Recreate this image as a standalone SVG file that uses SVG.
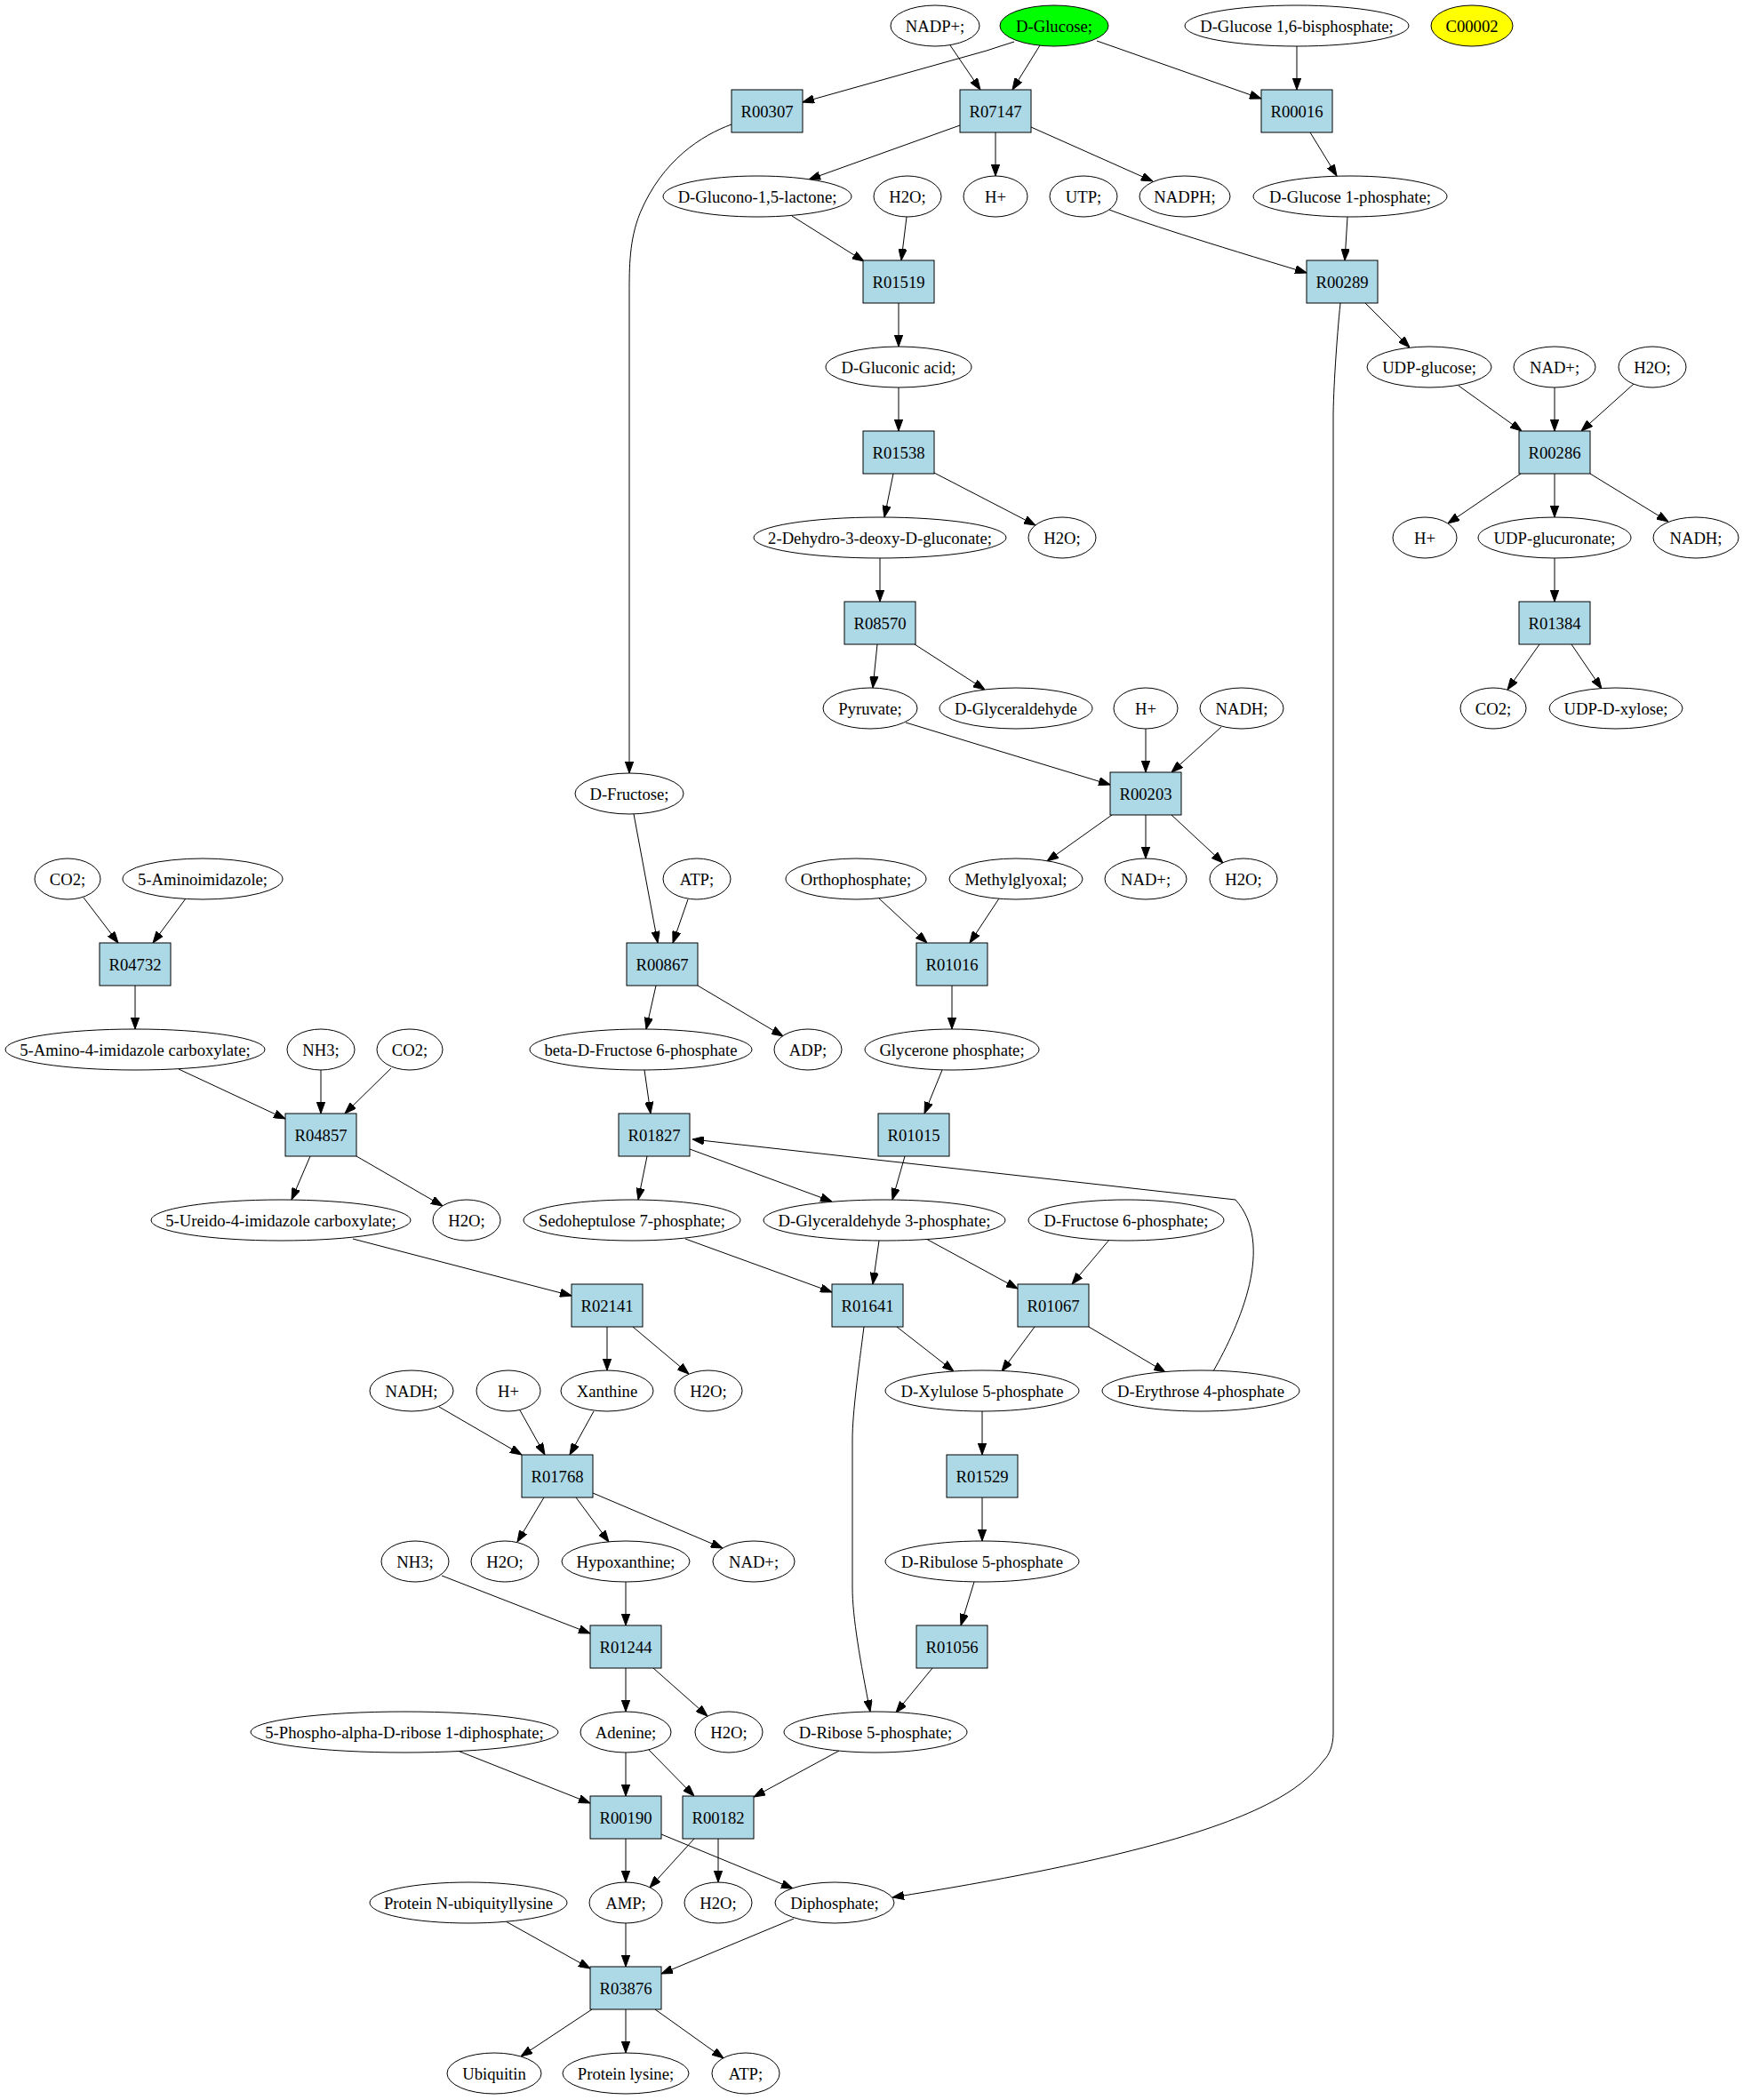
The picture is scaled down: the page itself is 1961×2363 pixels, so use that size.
<svg xmlns="http://www.w3.org/2000/svg" width="1961" height="2363" viewBox="0 0 1961 2363">
<style>
.e ellipse{fill:#fff;stroke:#000;stroke-width:1}
.r rect{fill:#add8e6;stroke:#000;stroke-width:1}
text{font-family:"Liberation Serif","Times New Roman",serif;font-size:18.67px;text-anchor:middle;fill:#000}
#edges path{fill:none;stroke:#000;stroke-width:1;marker-end:url(#ah)}
</style>
<defs>
<marker id="ah" markerUnits="userSpaceOnUse" viewBox="0 0 13 9.4" refX="13" refY="4.7" markerWidth="13" markerHeight="9.4" orient="auto">
<path d="M0,0 L13,4.7 L0,9.4 z" fill="#000" stroke="#000" stroke-width="1"/>
</marker>
</defs>
<rect width="1961" height="2363" fill="#fff"/>
<g id="edges">
<path d="M1141,47 Q1125,52 1110,57 L903,115"/>
<path d="M1069,51 L1103,101"/>
<path d="M1170,51 L1139,101"/>
<path d="M1234,46 L1419,111"/>
<path d="M1459,52 L1459,101"/>
<path d="M1080,141 L910,202"/>
<path d="M1120,149 L1120,198"/>
<path d="M1160,143 L1297,204"/>
<path d="M1474,149 L1504,198"/>
<path d="M1248,236 Q1300,256 1470,307"/>
<path d="M891,243 L972,294"/>
<path d="M1020,244 L1014,293"/>
<path d="M1516,244 L1513,293"/>
<path d="M1011,341 L1011,390"/>
<path d="M823,140 C790,152 745,180 720,240 C708,270 708,300 708,330 L708,870"/>
<path d="M1536,341 L1586,391"/>
<path d="M1508,341 C1504,380 1500,440 1500,470 L1500,1950 C1500,1965 1495,1975 1490,1980 C1475,2000 1455,2015 1430,2028 C1370,2060 1250,2096 1004,2135"/>
<path d="M1011,436 L1011,485"/>
<path d="M1005,533 L995,582"/>
<path d="M1051,532 L1165,591"/>
<path d="M990,628 L990,677"/>
<path d="M987,725 L982,774"/>
<path d="M1029,725 L1108,776"/>
<path d="M1019,813 L1249,883"/>
<path d="M1289,820 L1289,869"/>
<path d="M1374,818 L1318,869"/>
<path d="M1641,434 L1712,485"/>
<path d="M1749,436 L1749,485"/>
<path d="M1838,432 L1779,485"/>
<path d="M1711,533 L1629,589"/>
<path d="M1749,533 L1749,582"/>
<path d="M1789,533 L1877,587"/>
<path d="M1749,628 L1749,677"/>
<path d="M1732,725 L1696,776"/>
<path d="M1768,725 L1802,775"/>
<path d="M1251,917 L1178,969"/>
<path d="M1289,917 L1289,966"/>
<path d="M1318,917 L1376,971"/>
<path d="M713,916 L740,1061"/>
<path d="M774,1012 L757,1061"/>
<path d="M989,1011 L1043,1061"/>
<path d="M1124,1011 L1091,1061"/>
<path d="M94,1010 L133,1061"/>
<path d="M209,1011 L172,1061"/>
<path d="M152,1109 L152,1158"/>
<path d="M738,1109 L727,1158"/>
<path d="M785,1109 L881,1166"/>
<path d="M1071,1109 L1071,1158"/>
<path d="M201,1203 L321,1259"/>
<path d="M361,1204 L361,1253"/>
<path d="M440,1202 L388,1253"/>
<path d="M725,1204 L732,1253"/>
<path d="M1060,1204 L1040,1253"/>
<path d="M349,1301 L328,1350"/>
<path d="M401,1301 L498,1357"/>
<path d="M728,1301 L718,1350"/>
<path d="M776,1293 L936,1352"/>
<path d="M1018,1301 L1004,1350"/>
<path d="M1365,1543 C1395,1490 1435,1400 1390,1350 L779,1282"/>
<path d="M397,1394 L643,1458"/>
<path d="M771,1394 L936,1454"/>
<path d="M989,1396 L982,1445"/>
<path d="M1042,1394 L1145,1450"/>
<path d="M1248,1395 L1206,1445"/>
<path d="M683,1493 L683,1542"/>
<path d="M712,1493 L775,1546"/>
<path d="M1009,1493 L1073,1543"/>
<path d="M972,1493 C966,1540 959,1590 959,1620 L959,1786 C959,1820 968,1870 979,1926"/>
<path d="M1164,1493 L1127,1543"/>
<path d="M1225,1493 L1311,1544"/>
<path d="M494,1583 L587,1637"/>
<path d="M585,1587 L613,1637"/>
<path d="M668,1588 L641,1637"/>
<path d="M1105,1588 L1105,1637"/>
<path d="M612,1685 L582,1735"/>
<path d="M648,1685 L685,1735"/>
<path d="M667,1680 L813,1742"/>
<path d="M1105,1685 L1105,1734"/>
<path d="M497,1773 L664,1838"/>
<path d="M704,1780 L704,1829"/>
<path d="M1096,1780 L1081,1829"/>
<path d="M704,1877 L704,1926"/>
<path d="M735,1877 L796,1931"/>
<path d="M1049,1877 L1008,1927"/>
<path d="M515,1970 L664,2029"/>
<path d="M704,1972 L704,2021"/>
<path d="M730,1969 L781,2021"/>
<path d="M944,1970 L848,2022"/>
<path d="M704,2069 L704,2118"/>
<path d="M744,2064 L892,2125"/>
<path d="M781,2069 L731,2124"/>
<path d="M808,2069 L808,2118"/>
<path d="M569,2162 L664,2215"/>
<path d="M704,2164 L704,2213"/>
<path d="M893,2159 L744,2221"/>
<path d="M666,2261 L586,2314"/>
<path d="M704,2261 L704,2310"/>
<path d="M737,2261 L814,2316"/>
</g>
<g id="n_NADPp_1" class="e"><ellipse cx="1052" cy="29" rx="50" ry="23"/><text x="1052" y="35.5">NADP+;</text></g>
<g id="n_DGlucose" class="e"><ellipse cx="1186" cy="29" rx="61" ry="23" style="fill:#00ff00"/><text x="1186" y="35.5">D-Glucose;</text></g>
<g id="n_DGlc16BP" class="e"><ellipse cx="1459" cy="29" rx="126" ry="23"/><text x="1459" y="35.5">D-Glucose 1,6-bisphosphate;</text></g>
<g id="n_C00002" class="e"><ellipse cx="1656" cy="29" rx="46" ry="23" style="fill:#ffff00"/><text x="1656" y="35.5">C00002</text></g>
<g id="R00307" class="r"><rect x="823" y="101" width="80" height="48"/><text x="863" y="131.5">R00307</text></g>
<g id="R07147" class="r"><rect x="1080" y="101" width="80" height="48"/><text x="1120" y="131.5">R07147</text></g>
<g id="R00016" class="r"><rect x="1419" y="101" width="80" height="48"/><text x="1459" y="131.5">R00016</text></g>
<g id="n_DGluconoLactone" class="e"><ellipse cx="852" cy="221" rx="106" ry="23"/><text x="852" y="227.5">D-Glucono-1,5-lactone;</text></g>
<g id="n_H2O_1" class="e"><ellipse cx="1021" cy="221" rx="38" ry="23"/><text x="1021" y="227.5">H2O;</text></g>
<g id="n_Hp_1" class="e"><ellipse cx="1120" cy="221" rx="36" ry="23"/><text x="1120" y="227.5">H+</text></g>
<g id="n_UTP" class="e"><ellipse cx="1219" cy="221" rx="38" ry="23"/><text x="1219" y="227.5">UTP;</text></g>
<g id="n_NADPH" class="e"><ellipse cx="1333" cy="221" rx="51" ry="23"/><text x="1333" y="227.5">NADPH;</text></g>
<g id="n_DGlc1P" class="e"><ellipse cx="1519" cy="221" rx="109" ry="23"/><text x="1519" y="227.5">D-Glucose 1-phosphate;</text></g>
<g id="R01519" class="r"><rect x="971" y="293" width="80" height="48"/><text x="1011" y="323.5">R01519</text></g>
<g id="R00289" class="r"><rect x="1470" y="293" width="80" height="48"/><text x="1510" y="323.5">R00289</text></g>
<g id="n_DGluconicAcid" class="e"><ellipse cx="1011" cy="413" rx="82" ry="23"/><text x="1011" y="419.5">D-Gluconic acid;</text></g>
<g id="n_UDPGlucose" class="e"><ellipse cx="1608" cy="413" rx="70" ry="23"/><text x="1608" y="419.5">UDP-glucose;</text></g>
<g id="n_NADp_1" class="e"><ellipse cx="1749" cy="413" rx="46" ry="23"/><text x="1749" y="419.5">NAD+;</text></g>
<g id="n_H2O_2" class="e"><ellipse cx="1859" cy="413" rx="38" ry="23"/><text x="1859" y="419.5">H2O;</text></g>
<g id="R01538" class="r"><rect x="971" y="485" width="80" height="48"/><text x="1011" y="515.5">R01538</text></g>
<g id="R00286" class="r"><rect x="1709" y="485" width="80" height="48"/><text x="1749" y="515.5">R00286</text></g>
<g id="n_KDG" class="e"><ellipse cx="990" cy="605" rx="142" ry="23"/><text x="990" y="611.5">2-Dehydro-3-deoxy-D-gluconate;</text></g>
<g id="n_H2O_3" class="e"><ellipse cx="1195" cy="605" rx="38" ry="23"/><text x="1195" y="611.5">H2O;</text></g>
<g id="n_Hp_2" class="e"><ellipse cx="1603" cy="605" rx="36" ry="23"/><text x="1603" y="611.5">H+</text></g>
<g id="n_UDPGlcA" class="e"><ellipse cx="1749" cy="605" rx="86" ry="23"/><text x="1749" y="611.5">UDP-glucuronate;</text></g>
<g id="n_NADH_1" class="e"><ellipse cx="1908" cy="605" rx="48" ry="23"/><text x="1908" y="611.5">NADH;</text></g>
<g id="R08570" class="r"><rect x="950" y="677" width="80" height="48"/><text x="990" y="707.5">R08570</text></g>
<g id="R01384" class="r"><rect x="1709" y="677" width="80" height="48"/><text x="1749" y="707.5">R01384</text></g>
<g id="n_Pyruvate" class="e"><ellipse cx="979" cy="797" rx="53" ry="23"/><text x="979" y="803.5">Pyruvate;</text></g>
<g id="n_DGlyceraldehyde" class="e"><ellipse cx="1143" cy="797" rx="86" ry="23"/><text x="1143" y="803.5">D-Glyceraldehyde</text></g>
<g id="n_Hp_3" class="e"><ellipse cx="1289" cy="797" rx="36" ry="23"/><text x="1289" y="803.5">H+</text></g>
<g id="n_NADH_2" class="e"><ellipse cx="1397" cy="797" rx="47" ry="23"/><text x="1397" y="803.5">NADH;</text></g>
<g id="n_CO2_1" class="e"><ellipse cx="1680" cy="797" rx="37" ry="23"/><text x="1680" y="803.5">CO2;</text></g>
<g id="n_UDPXyl" class="e"><ellipse cx="1818" cy="797" rx="75" ry="23"/><text x="1818" y="803.5">UDP-D-xylose;</text></g>
<g id="n_DFructose" class="e"><ellipse cx="708" cy="893" rx="61" ry="23"/><text x="708" y="899.5">D-Fructose;</text></g>
<g id="R00203" class="r"><rect x="1249" y="869" width="80" height="48"/><text x="1289" y="899.5">R00203</text></g>
<g id="n_CO2_2" class="e"><ellipse cx="76" cy="989" rx="37" ry="23"/><text x="76" y="995.5">CO2;</text></g>
<g id="n_AIR" class="e"><ellipse cx="228" cy="989" rx="90" ry="23"/><text x="228" y="995.5">5-Aminoimidazole;</text></g>
<g id="n_ATP_1" class="e"><ellipse cx="784" cy="989" rx="38" ry="23"/><text x="784" y="995.5">ATP;</text></g>
<g id="n_Pi" class="e"><ellipse cx="963" cy="989" rx="79" ry="23"/><text x="963" y="995.5">Orthophosphate;</text></g>
<g id="n_Methylglyoxal" class="e"><ellipse cx="1143" cy="989" rx="75" ry="23"/><text x="1143" y="995.5">Methylglyoxal;</text></g>
<g id="n_NADp_2" class="e"><ellipse cx="1289" cy="989" rx="46" ry="23"/><text x="1289" y="995.5">NAD+;</text></g>
<g id="n_H2O_4" class="e"><ellipse cx="1399" cy="989" rx="38" ry="23"/><text x="1399" y="995.5">H2O;</text></g>
<g id="R04732" class="r"><rect x="112" y="1061" width="80" height="48"/><text x="152" y="1091.5">R04732</text></g>
<g id="R00867" class="r"><rect x="705" y="1061" width="80" height="48"/><text x="745" y="1091.5">R00867</text></g>
<g id="R01016" class="r"><rect x="1031" y="1061" width="80" height="48"/><text x="1071" y="1091.5">R01016</text></g>
<g id="n_AICA" class="e"><ellipse cx="152" cy="1181" rx="146" ry="23"/><text x="152" y="1187.5">5-Amino-4-imidazole carboxylate;</text></g>
<g id="n_NH3_1" class="e"><ellipse cx="361" cy="1181" rx="38" ry="23"/><text x="361" y="1187.5">NH3;</text></g>
<g id="n_CO2_3" class="e"><ellipse cx="461" cy="1181" rx="37" ry="23"/><text x="461" y="1187.5">CO2;</text></g>
<g id="n_bF6P" class="e"><ellipse cx="721" cy="1181" rx="125" ry="23"/><text x="721" y="1187.5">beta-D-Fructose 6-phosphate</text></g>
<g id="n_ADP" class="e"><ellipse cx="909" cy="1181" rx="38" ry="23"/><text x="909" y="1187.5">ADP;</text></g>
<g id="n_DHAP" class="e"><ellipse cx="1071" cy="1181" rx="98" ry="23"/><text x="1071" y="1187.5">Glycerone phosphate;</text></g>
<g id="R04857" class="r"><rect x="321" y="1253" width="80" height="48"/><text x="361" y="1283.5">R04857</text></g>
<g id="R01827" class="r"><rect x="696" y="1253" width="80" height="48"/><text x="736" y="1283.5">R01827</text></g>
<g id="R01015" class="r"><rect x="988" y="1253" width="80" height="48"/><text x="1028" y="1283.5">R01015</text></g>
<g id="n_UICA" class="e"><ellipse cx="316" cy="1373" rx="146" ry="23"/><text x="316" y="1379.5">5-Ureido-4-imidazole carboxylate;</text></g>
<g id="n_H2O_5" class="e"><ellipse cx="525" cy="1373" rx="38" ry="23"/><text x="525" y="1379.5">H2O;</text></g>
<g id="n_S7P" class="e"><ellipse cx="711" cy="1373" rx="122" ry="23"/><text x="711" y="1379.5">Sedoheptulose 7-phosphate;</text></g>
<g id="n_G3P" class="e"><ellipse cx="995" cy="1373" rx="136" ry="23"/><text x="995" y="1379.5">D-Glyceraldehyde 3-phosphate;</text></g>
<g id="n_F6P" class="e"><ellipse cx="1267" cy="1373" rx="110" ry="23"/><text x="1267" y="1379.5">D-Fructose 6-phosphate;</text></g>
<g id="R02141" class="r"><rect x="643" y="1445" width="80" height="48"/><text x="683" y="1475.5">R02141</text></g>
<g id="R01641" class="r"><rect x="936" y="1445" width="80" height="48"/><text x="976" y="1475.5">R01641</text></g>
<g id="R01067" class="r"><rect x="1145" y="1445" width="80" height="48"/><text x="1185" y="1475.5">R01067</text></g>
<g id="n_NADH_3" class="e"><ellipse cx="463" cy="1565" rx="47" ry="23"/><text x="463" y="1571.5">NADH;</text></g>
<g id="n_Hp_4" class="e"><ellipse cx="572" cy="1565" rx="36" ry="23"/><text x="572" y="1571.5">H+</text></g>
<g id="n_Xanthine" class="e"><ellipse cx="683" cy="1565" rx="52" ry="23"/><text x="683" y="1571.5">Xanthine</text></g>
<g id="n_H2O_6" class="e"><ellipse cx="797" cy="1565" rx="38" ry="23"/><text x="797" y="1571.5">H2O;</text></g>
<g id="n_Xu5P" class="e"><ellipse cx="1105" cy="1565" rx="109" ry="23"/><text x="1105" y="1571.5">D-Xylulose 5-phosphate</text></g>
<g id="n_E4P" class="e"><ellipse cx="1351" cy="1565" rx="111" ry="23"/><text x="1351" y="1571.5">D-Erythrose 4-phosphate</text></g>
<g id="R01768" class="r"><rect x="587" y="1637" width="80" height="48"/><text x="627" y="1667.5">R01768</text></g>
<g id="R01529" class="r"><rect x="1065" y="1637" width="80" height="48"/><text x="1105" y="1667.5">R01529</text></g>
<g id="n_NH3_2" class="e"><ellipse cx="467" cy="1757" rx="38" ry="23"/><text x="467" y="1763.5">NH3;</text></g>
<g id="n_H2O_7" class="e"><ellipse cx="568" cy="1757" rx="38" ry="23"/><text x="568" y="1763.5">H2O;</text></g>
<g id="n_Hypoxanthine" class="e"><ellipse cx="704" cy="1757" rx="72" ry="23"/><text x="704" y="1763.5">Hypoxanthine;</text></g>
<g id="n_NADp_3" class="e"><ellipse cx="848" cy="1757" rx="46" ry="23"/><text x="848" y="1763.5">NAD+;</text></g>
<g id="n_Ru5P" class="e"><ellipse cx="1105" cy="1757" rx="109" ry="23"/><text x="1105" y="1763.5">D-Ribulose 5-phosphate</text></g>
<g id="R01244" class="r"><rect x="664" y="1829" width="80" height="48"/><text x="704" y="1859.5">R01244</text></g>
<g id="R01056" class="r"><rect x="1031" y="1829" width="80" height="48"/><text x="1071" y="1859.5">R01056</text></g>
<g id="n_PRPP" class="e"><ellipse cx="455" cy="1949" rx="173" ry="23"/><text x="455" y="1955.5">5-Phospho-alpha-D-ribose 1-diphosphate;</text></g>
<g id="n_Adenine" class="e"><ellipse cx="704" cy="1949" rx="51" ry="23"/><text x="704" y="1955.5">Adenine;</text></g>
<g id="n_H2O_8" class="e"><ellipse cx="820" cy="1949" rx="38" ry="23"/><text x="820" y="1955.5">H2O;</text></g>
<g id="n_R5P" class="e"><ellipse cx="985" cy="1949" rx="103" ry="23"/><text x="985" y="1955.5">D-Ribose 5-phosphate;</text></g>
<g id="R00190" class="r"><rect x="664" y="2021" width="80" height="48"/><text x="704" y="2051.5">R00190</text></g>
<g id="R00182" class="r"><rect x="768" y="2021" width="80" height="48"/><text x="808" y="2051.5">R00182</text></g>
<g id="n_ProtUbLys" class="e"><ellipse cx="527" cy="2141" rx="111" ry="23"/><text x="527" y="2147.5">Protein N-ubiquityllysine</text></g>
<g id="n_AMP" class="e"><ellipse cx="704" cy="2141" rx="41" ry="23"/><text x="704" y="2147.5">AMP;</text></g>
<g id="n_H2O_9" class="e"><ellipse cx="808" cy="2141" rx="38" ry="23"/><text x="808" y="2147.5">H2O;</text></g>
<g id="n_PPi" class="e"><ellipse cx="939" cy="2141" rx="67" ry="23"/><text x="939" y="2147.5">Diphosphate;</text></g>
<g id="R03876" class="r"><rect x="664" y="2213" width="80" height="48"/><text x="704" y="2243.5">R03876</text></g>
<g id="n_Ubiquitin" class="e"><ellipse cx="556" cy="2333" rx="53" ry="23"/><text x="556" y="2339.5">Ubiquitin</text></g>
<g id="n_ProtLys" class="e"><ellipse cx="704" cy="2333" rx="71" ry="23"/><text x="704" y="2339.5">Protein lysine;</text></g>
<g id="n_ATP_2" class="e"><ellipse cx="839" cy="2333" rx="38" ry="23"/><text x="839" y="2339.5">ATP;</text></g>
</svg>
